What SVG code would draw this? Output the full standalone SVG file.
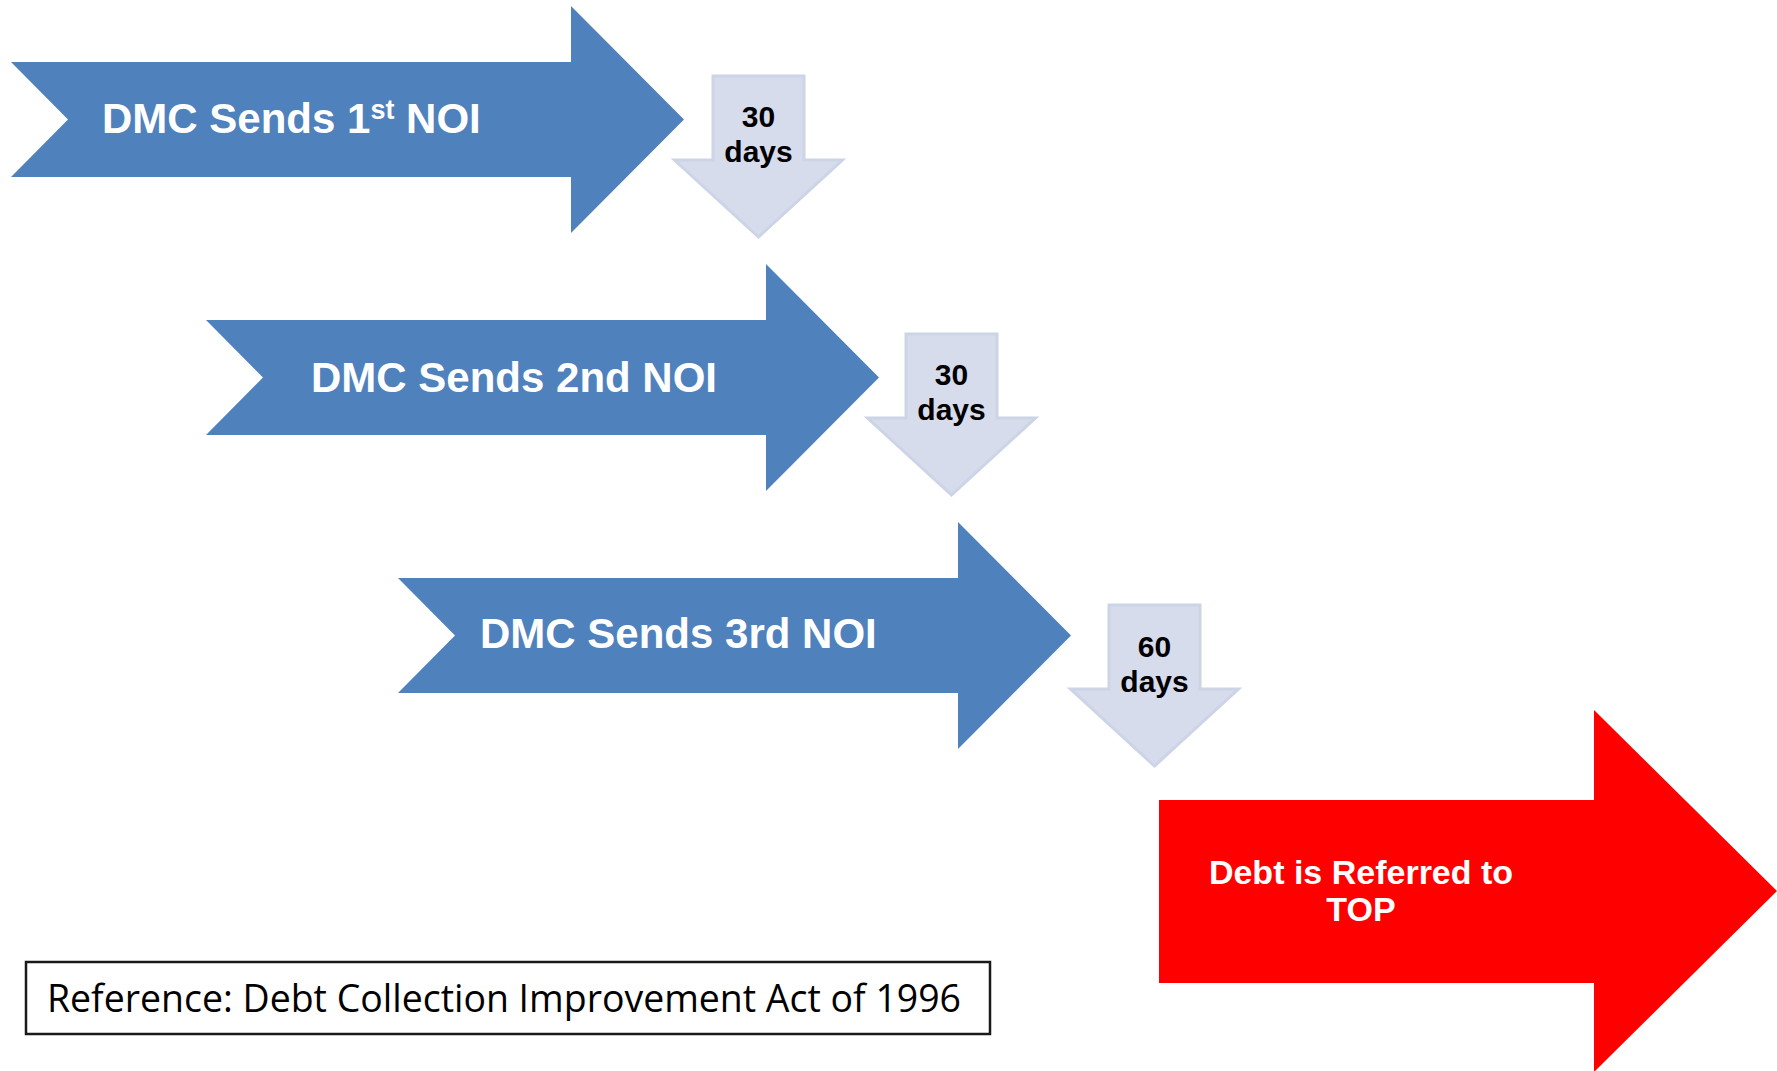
<svg xmlns="http://www.w3.org/2000/svg" width="1777" height="1071" viewBox="0 0 1777 1071">
  <style>
    .step { fill: #4F81BD; }
    .step-label { fill: #FFFFFF; font-family: "Liberation Sans", Arial, sans-serif; font-weight: bold; font-size: 42px; }
    .wait { fill: #D6DCEB; stroke: #CCD4E6; stroke-width: 3; stroke-linejoin: miter; }
    .wait-label { fill: #000000; font-family: "Liberation Sans", Arial, sans-serif; font-weight: bold; font-size: 30px; text-anchor: middle; }
    .final { fill: #FF0000; }
    .final-label { fill: #FFFFFF; font-family: "Liberation Sans", Arial, sans-serif; font-weight: bold; font-size: 34px; text-anchor: middle; }
    .ref-box { fill: #FFFFFF; stroke: #1A1A1A; stroke-width: 2.5; }
    .ref-label { fill: #000000; font-family: "Open Sans", "Noto Sans", sans-serif; font-size: 38px; }
  </style>
  <defs>
    <!-- notched block arrow, origin at top-left of the shaft -->
    <path id="stepArrow" d="M0,0 H560 V-56 L673,57.5 L560,171 V115 H0 L57,57.5 Z"/>
    <!-- downward wait arrow, origin at top-centre of the shaft -->
    <path id="waitArrow" d="M-45.5,0 H45.5 V84 H84 L0,161 L-84,84 H-45.5 Z"/>
  </defs>

  <rect width="1777" height="1071" fill="#FFFFFF"/>

  <g id="connectors">
    <g id="wait1" transform="translate(758.5,76)">
      <use href="#waitArrow" class="wait"/>
      <text class="wait-label" x="0" y="51">30</text>
      <text class="wait-label" x="0" y="86">days</text>
    </g>
    <g id="wait2" transform="translate(951.5,334)">
      <use href="#waitArrow" class="wait"/>
      <text class="wait-label" x="0" y="51">30</text>
      <text class="wait-label" x="0" y="86">days</text>
    </g>
    <g id="wait3" transform="translate(1154.5,605)">
      <use href="#waitArrow" class="wait"/>
      <text class="wait-label" x="0" y="52">60</text>
      <text class="wait-label" x="0" y="87">days</text>
    </g>
  </g>

  <g id="noi1" transform="translate(11,62)">
    <use href="#stepArrow" class="step"/>
    <text class="step-label" x="91" y="71">DMC Sends 1<tspan font-size="27" dy="-14">st</tspan><tspan dy="14"> NOI</tspan></text>
  </g>

  <g id="noi2" transform="translate(206,320)">
    <use href="#stepArrow" class="step"/>
    <text class="step-label" x="105" y="72">DMC Sends 2nd NOI</text>
  </g>

  <g id="noi3" transform="translate(398,578)">
    <use href="#stepArrow" class="step"/>
    <text class="step-label" x="82" y="70">DMC Sends 3rd NOI</text>
  </g>

  <g id="top-referral">
    <polygon class="final" points="1159,800 1594,800 1594,710 1777,891 1594,1072 1594,983 1159,983"/>
    <text class="final-label" x="1361" y="884">Debt is Referred to</text>
    <text class="final-label" x="1361" y="921">TOP</text>
  </g>

  <g id="reference">
    <rect class="ref-box" x="26" y="962" width="964" height="72"/>
    <text class="ref-label" x="47" y="1012" textLength="914" lengthAdjust="spacingAndGlyphs">Reference: Debt Collection Improvement Act of 1996</text>
  </g>
</svg>
